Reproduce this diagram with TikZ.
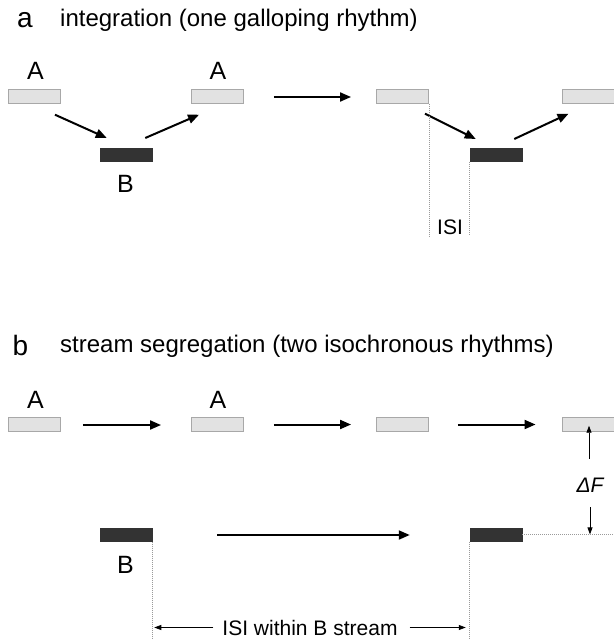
\documentclass[tikz,border=0pt]{standalone}
\usepackage{fontspec}
\setmainfont{Liberation Sans}
\usetikzlibrary{arrows.meta,calc}
\definecolor{boxA}{HTML}{E2E2E2}
\definecolor{boxAedge}{HTML}{A8A8A8}
\definecolor{boxB}{HTML}{333333}
\definecolor{dotc}{HTML}{9A9A9A}
\tikzset{
  abox/.style={draw=boxAedge,fill=boxA,line width=0.9pt,minimum width=52pt,minimum height=13.5pt,inner sep=0pt},
  bbox/.style={draw=boxB,fill=boxB,line width=0.5pt,minimum width=52pt,minimum height=13.5pt,inner sep=0pt},
  bigarr/.style={line width=2pt,-{Triangle[length=11pt,width=9pt]}},
  thinarr/.style={line width=0.8pt,-{Triangle[length=7pt,width=5pt]}},
  dotline/.style={dotc,line width=0.7pt,dash pattern=on 1pt off 1pt},
  panel/.style={font=\fontsize{28}{30}\selectfont,anchor=base,inner sep=0pt},
  ttl/.style={font=\fontsize{24}{26}\selectfont,anchor=base west,inner sep=0pt},
  lbl/.style={font=\fontsize{25}{27}\selectfont,anchor=base,inner sep=0pt},
  small/.style={font=\fontsize{21}{23}\selectfont,anchor=base,inner sep=0pt}
}
\begin{document}
\begin{tikzpicture}[x=1pt,y=-1pt]
\useasboundingbox (0,0) rectangle (613,639);
% ---------- panel a ----------
\node[panel] (pa) at (25,28) {a};
\node[ttl] (ta) at (60,27) {integration (one galloping rhythm)};
\node[abox] (A1) at (34.5,96.5) {};
\node[abox] (A2) at (217.5,96.5) {};
\node[abox] (A3) at (402.5,96.5) {};
\node[abox] (A4) at (588,96.5) {};
\node[bbox] (B1) at (126,155) {};
\node[bbox] (B2) at (496,155) {};
\node[lbl] (la1) at (35.5,80) {A};
\node[lbl] (la2) at (218,80) {A};
\node[lbl] (lb1) at (125.5,193) {B};
\node[small] (isi) at (450,234) {ISI};
\coordinate (isibot) at (0,236);
\draw[bigarr] ($(A1.south east)+(-6,11)$) -- ($(B1.north west)+(7,-10)$);
\draw[bigarr] ($(B1.north east)+(-7,-10)$) -- ($(A2.south west)+(8,11)$);
\draw[bigarr] ($(A2.east)+(30,0.5)$) -- ($(A3.west)+(-25,0.5)$);
\draw[bigarr] ($(A3.south east)+(-4,10)$) -- ($(B2.north west)+(6,-9)$);
\draw[bigarr] ($(B2.north east)+(-8,-9)$) -- ($(A4.south west)+(7,10)$);
\draw[dotline] (A3.south east) -- (A3.south east |- isibot);
\draw[dotline] (B2.south west) -- (B2.south west |- isibot);
% ---------- panel b ----------
\node[panel] (pb) at (20.5,355) {b};
\node[ttl] (tb) at (60,352) {stream segregation (two isochronous rhythms)};
\node[abox] (C1) at (34.5,424.5) {};
\node[abox] (C2) at (217.5,424.5) {};
\node[abox] (C3) at (402.5,424.5) {};
\node[abox] (C4) at (588,424.5) {};
\node[bbox] (D1) at (126,534.5) {};
\node[bbox] (D2) at (496,534.5) {};
\node[lbl] (lc1) at (35.5,408) {A};
\node[lbl] (lc2) at (218,408) {A};
\node[lbl] (ld1) at (125.5,573) {B};
\draw[bigarr] ($(C1.east)+(22,0.5)$) -- ($(C2.west)+(-30,0.5)$);
\draw[bigarr] ($(C2.east)+(30,0)$) -- ($(C3.west)+(-25,0)$);
\draw[bigarr] ($(C3.east)+(29,0)$) -- ($(C4.west)+(-26,0)$);
\draw[bigarr] ($(D1.east)+(65,0.5)$) -- ($(D2.west)+(-60,0.5)$);
\node[font=\fontsize{21}{23}\selectfont\itshape,inner sep=0pt] (df) at (590,485) {ΔF};
\draw[thinarr] ($(df.north)+(-1,-19)$) -- ($(C4.south)+(1,-6)$);
\draw[thinarr] ($(df.south)+(0,15)$) -- ($(df.south)+(0,42)$);
\coordinate (rightedge) at (613,0);
\draw[dotline] (D2.east) -- (D2.east -| rightedge);
\coordinate (botedge) at (0,639);
\draw[dotline] (D1.south east) -- (D1.south east |- botedge);
\draw[dotline] (D2.south west) -- (D2.south west |- botedge);
\node[small] (isib) at (310,635) {ISI within B stream};
\draw[thinarr] ($(isib.west)+(-9,0)$) -- ($(D1.east |- isib.west)+(2,0)$);
\draw[thinarr] ($(isib.east)+(12,0)$) -- ($(D2.west |- isib.east)+(-4,0)$);
\end{tikzpicture}
\end{document}
